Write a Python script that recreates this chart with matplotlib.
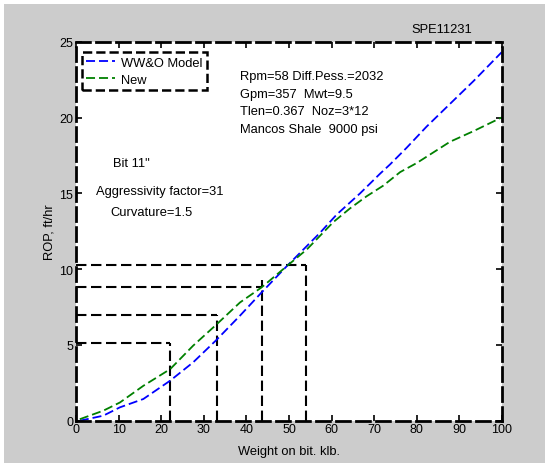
import matplotlib
matplotlib.use("Agg")
import matplotlib.pyplot as plt
from matplotlib.patches import Rectangle

plt.rcParams["font.family"] = ["Liberation Sans", "DejaVu Sans"]
plt.rcParams["font.size"] = 9.3

# WOB (klb) vs ROP (ft/hr) for the two models
wob_model = [0.9, 6.4, 10.3, 15.8, 22.1, 27.5, 32.8, 38.5, 43.6, 49.5, 53.4,
             57.3, 61.2, 66.7, 71.4, 73.7, 77.6, 82.3, 87.8, 93.3, 99.9]
rop_model = [0.0, 0.33, 0.88, 1.43, 2.64, 3.85, 5.28, 6.93, 8.47, 10.2, 11.3,
             12.4, 13.6, 15.0, 16.3, 16.9, 18.0, 19.4, 20.9, 22.4, 24.3]

wob_new = [0.9, 6.4, 10.3, 15.8, 22.1, 27.5, 32.8, 38.5, 43.6, 49.5, 54.2,
           57.3, 60.4, 64.3, 68.2, 72.1, 76.1, 80.0, 83.9, 87.8, 93.3, 99.9]
rop_new = [0.1, 0.66, 1.2, 2.3, 3.4, 4.95, 6.3, 7.8, 8.8, 10.2, 11.3,
           12.2, 13.1, 14.0, 14.8, 15.5, 16.4, 17.0, 17.7, 18.4, 19.1, 20.0]

# read-off guides: (wob, rop)
guide_wob = [22, 33, 43.6, 54]
guide_rop = [5.1, 7.0, 8.84, 10.3]

params = ["Rpm=58 Diff.Pess.=2032", "Gpm=357  Mwt=9.5",
          "Tlen=0.367  Noz=3*12", "Mancos Shale  9000 psi"]
bit_info = ['Bit 11"', "Aggressivity factor=31", "Curvature=1.5"]

W, H = 545, 464
fig = plt.figure(figsize=(W / 100, H / 100), dpi=100, facecolor="white")
fig.patches.append(Rectangle((4 / W, 0), 1, 1 - 5 / H, transform=fig.transFigure,
                             facecolor="#cccccc", edgecolor="none", zorder=-10))

ax = fig.add_axes([76 / W, 1 - 421.7 / H, 426 / W, 379 / H])
ax.set_xlim(0, 100)
ax.set_ylim(0, 25)

dash = (0, (5, 2.2))
ax.plot(wob_model, rop_model, color="#0000ff", lw=1.3, ls=dash, label="WW&O Model")
ax.plot(wob_new, rop_new, color="#008000", lw=1.3, ls=dash, label="New")

for x, y in zip(guide_wob, guide_rop):
    ax.plot([0, x], [y, y], color="black", lw=1.5, ls=dash, zorder=1)
    top = y + 0.45 if x == 43.6 else y
    ax.plot([x, x], [0, top], color="black", lw=1.5, ls=dash, zorder=1)

for s in ax.spines.values():
    s.set_linestyle(dash)
    s.set_linewidth(2)

ax.set_xticks(range(0, 101, 10))
ax.set_yticks(range(0, 26, 5))
ax.tick_params(direction="in", length=4, width=1.2, top=True, right=True, pad=2,
               labelsize=9)

ax.set_xlabel("Weight on bit. klb.", labelpad=7)
ax.set_ylabel("ROP, ft/hr", labelpad=3)

leg = ax.legend(loc="upper left", bbox_to_anchor=(-0.002, 0.99), fancybox=False,
                framealpha=1, edgecolor="black", handlelength=2.2,
                borderpad=0.35, labelspacing=0.4, handletextpad=0.5)
leg.get_frame().set_linestyle("--")
leg.get_frame().set_linewidth(1.8)

# annotation blocks placed in pixel coordinates from the top-left corner
for i, t in enumerate(params):
    ax.text(240 / W, 1 - (77 + i * 17.7) / H, t, transform=fig.transFigure,
            va="center", ha="left")
for t, (px, py) in zip(bit_info, [(113, 164), (96, 192), (110, 213)]):
    ax.text(px / W, 1 - py / H, t, transform=fig.transFigure, va="center", ha="left")

fig.text(442 / W, 1 - 30 / H, "SPE11231", ha="center", va="center")

fig.savefig("out.png", dpi=100, facecolor=fig.get_facecolor())
